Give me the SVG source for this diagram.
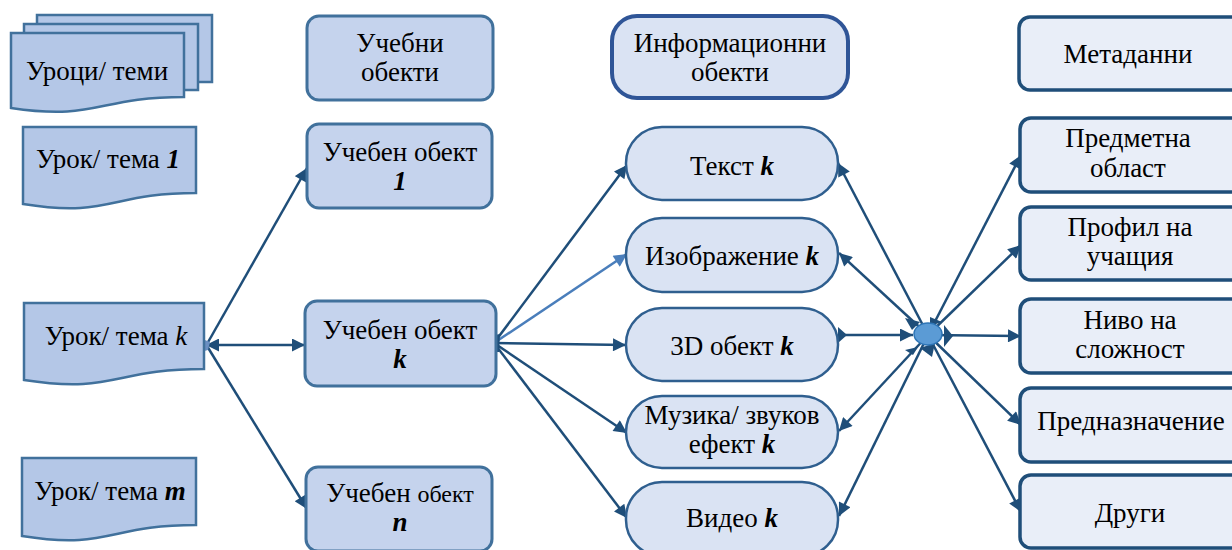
<svg xmlns="http://www.w3.org/2000/svg" width="1232" height="550" viewBox="0 0 1232 550" font-family="'Liberation Serif', 'DejaVu Serif', serif">
<style>
text{font-family:'Liberation Serif','DejaVu Serif',serif;font-size:27px;fill:#000;text-anchor:middle}
.bi{font-weight:bold;font-style:italic}
.doc{fill:#b4c7e7;stroke:#41719c;stroke-width:2.5}
.uo{fill:#c5d3ed;stroke:#41719c;stroke-width:3}
.io{fill:#dae3f3;stroke:#2f5f8f;stroke-width:2.5}
.md{fill:#e9eef8;stroke:#1f4e79;stroke-width:3.5}
.c{stroke:#1f4e79;stroke-width:2.5;fill:none}
.cl{stroke:#4a7ebb;stroke-width:2.5;fill:none}
.ah{fill:#1f4e79}
</style>
<defs>
<marker id="a" viewBox="0 0 10 10" refX="10" refY="5" markerWidth="15" markerHeight="13" markerUnits="userSpaceOnUse" orient="auto-start-reverse"><path d="M0,0 L10,5 L0,10 z" fill="#1f4e79"/></marker>
<marker id="al" viewBox="0 0 10 10" refX="10" refY="5" markerWidth="15" markerHeight="13" markerUnits="userSpaceOnUse" orient="auto"><path d="M0,0 L10,5 L0,10 z" fill="#4a7ebb"/></marker>
</defs>

<g id="connectors">
<line class="c" x1="207" y1="344" x2="307" y2="168" marker-end="url(#a)"/>
<line class="c" x1="207" y1="346" x2="307" y2="509" marker-end="url(#a)"/>
<line class="c" x1="206" y1="345" x2="305" y2="345" marker-start="url(#a)" marker-end="url(#a)"/>
<line class="c" x1="494" y1="343" x2="627" y2="165" marker-end="url(#a)"/>
<line class="cl" x1="494" y1="343" x2="627" y2="254" marker-end="url(#al)"/>
<line class="c" x1="494" y1="343" x2="626" y2="345" marker-end="url(#a)"/>
<line class="c" x1="494" y1="343" x2="627" y2="433" marker-end="url(#a)"/>
<line class="c" x1="494" y1="343" x2="627" y2="518" marker-end="url(#a)"/>
<polygon class="ah" points="484,337 500,334 499,352 486,352"/>
<polygon points="197,337 210,342 208,350 197,353 200,345" fill="#6a8fc2"/>
<line class="c" x1="928" y1="335" x2="838" y2="163" marker-end="url(#a)"/>
<line class="c" x1="928" y1="335" x2="839" y2="253" marker-end="url(#a)"/>
<line class="c" x1="840" y1="335" x2="913" y2="335" marker-end="url(#a)"/>
<polygon class="ah" points="838,327 847,335 838,343"/>
<line class="c" x1="928" y1="335" x2="839" y2="431" marker-end="url(#a)"/>
<line class="c" x1="928" y1="335" x2="839" y2="516" marker-end="url(#a)"/>
<line class="c" x1="928" y1="335" x2="1021" y2="155" marker-end="url(#a)"/>
<line class="c" x1="928" y1="335" x2="1021" y2="245" marker-end="url(#a)"/>
<line class="c" x1="928" y1="335" x2="1021" y2="336" marker-end="url(#a)"/>
<line class="c" x1="928" y1="335" x2="1021" y2="425" marker-end="url(#a)"/>
<line class="c" x1="928" y1="335" x2="1021" y2="512" marker-end="url(#a)"/>
</g>

<g id="hub">
<polygon class="ah" points="905,318 920,322 912,330"/>
<polygon class="ah" points="930,317 942,322 930,326"/>
<polygon class="ah" points="944,325 953,336 944,347"/>
<polygon class="ah" points="905,350 918,347 913,355"/>
<polygon class="ah" points="920,348 935,343 932,357"/>
<ellipse cx="928" cy="334" rx="14" ry="11" fill="#5b9bd5" stroke="#2e75b6" stroke-width="1.5"/>
</g>

<g id="lessons">
<rect class="doc" x="37" y="15" width="175" height="67"/>
<rect class="doc" x="24" y="24" width="174" height="66"/>
<path class="doc" d="M11,33 H184 V97 C97,97 97,121 11,108 Z"/>
<text x="97" y="80">Уроци/ теми</text>
</g>
<g id="lesson1">
<path class="doc" d="M23,127 H196 V193 C110,193 110,218 23,204 Z"/>
<text x="108" y="168">Урок/ тема <tspan class="bi">1</tspan></text>
</g>
<g id="lessonk">
<path class="doc" d="M24,303 H204 V369 C114,369 114,394 24,380 Z"/>
<text x="116" y="345">Урок/ тема <tspan font-style="italic">k</tspan></text>
</g>
<g id="lessonm">
<path class="doc" d="M22,458 H196 V525 C109,525 109,550 22,536 Z"/>
<text x="110" y="500">Урок/ тема <tspan class="bi">m</tspan></text>
</g>

<g id="lo-head">
<rect class="uo" x="307" y="16" width="186" height="84" rx="12"/>
<text x="400" y="52">Учебни</text>
<text x="400" y="81">обекти</text>
</g>
<g id="lo1">
<rect class="uo" x="307" y="124" width="185" height="84" rx="12"/>
<text x="400" y="161">Учебен обект</text>
<text x="400" y="190" class="bi">1</text>
</g>
<g id="lok">
<rect class="uo" x="305" y="301" width="191" height="85" rx="12"/>
<text x="400" y="339">Учебен обект</text>
<text x="400" y="368" class="bi">k</text>
</g>
<g id="lon">
<rect class="uo" x="306" y="467" width="186" height="84" rx="12"/>
<text x="400" y="502">Учебен <tspan font-size="24">обект</tspan></text>
<text x="400" y="531" class="bi">n</text>
</g>

<g id="io-head">
<rect x="612" y="16" width="236" height="82" rx="25" fill="#dae3f3" stroke="#2f5597" stroke-width="4"/>
<text x="730" y="52">Информационни</text>
<text x="730" y="81">обекти</text>
</g>
<g id="text">
<rect class="io" x="626" y="127" width="212" height="73" rx="36"/>
<text x="732" y="175">Текст <tspan class="bi">k</tspan></text>
</g>
<g id="image">
<rect class="io" x="626" y="218" width="212" height="74" rx="36"/>
<text x="732" y="265">Изображение <tspan class="bi">k</tspan></text>
</g>
<g id="obj3d">
<rect class="io" x="626" y="308" width="212" height="73" rx="36"/>
<text x="732" y="355">3D обект <tspan class="bi">k</tspan></text>
</g>
<g id="music">
<rect class="io" x="626" y="396" width="212" height="72" rx="36"/>
<text x="732" y="424">Музика/ звуков</text>
<text x="732" y="453">ефект <tspan class="bi">k</tspan></text>
</g>
<g id="video">
<rect class="io" x="626" y="482" width="212" height="74" rx="36"/>
<text x="732" y="527">Видео <tspan class="bi">k</tspan></text>
</g>

<g id="meta-head">
<rect class="md" x="1019" y="17" width="225" height="73" rx="11"/>
<text x="1128" y="63">Метаданни</text>
</g>
<g id="subject">
<rect class="md" x="1020" y="118" width="224" height="74" rx="11"/>
<text x="1128" y="147">Предметна</text>
<text x="1128" y="177">област</text>
</g>
<g id="profile">
<rect class="md" x="1020" y="207" width="224" height="73" rx="11"/>
<text x="1130" y="236">Профил на</text>
<text x="1130" y="265">учащия</text>
</g>
<g id="level">
<rect class="md" x="1020" y="299" width="224" height="74" rx="11"/>
<text x="1130" y="329">Ниво на</text>
<text x="1130" y="358">сложност</text>
</g>
<g id="purpose">
<rect class="md" x="1020" y="388" width="224" height="74" rx="11"/>
<text x="1131" y="430">Предназначение</text>
</g>
<g id="other">
<rect class="md" x="1020" y="475" width="224" height="73" rx="11"/>
<text x="1130" y="522">Други</text>
</g>
</svg>
